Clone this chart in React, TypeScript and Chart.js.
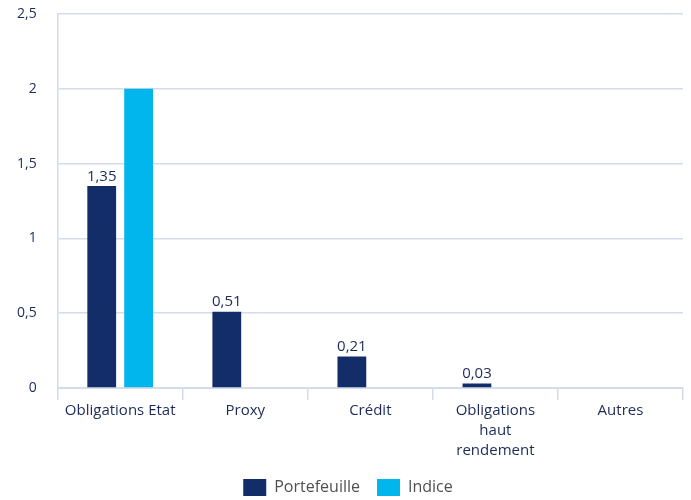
import React, { useEffect, useRef } from "react";
import { Chart, registerables } from "chart.js";

Chart.register(...registerables);

const categories: (string | string[])[] = [
  "Obligations Etat",
  "Proxy",
  "Crédit",
  ["Obligations", "haut", "rendement"],
  "Autres",
];
const portefeuille = [1.35, 0.51, 0.21, 0.03, 0];
const indice = [2.0, 0, 0, 0, 0];
const yTicks = [0, 0.5, 1, 1.5, 2, 2.5];

const NAVY = "#132d69";
const CYAN = "#00b6ec";
const TEXT = "#1c2b5a";
const GRID = "#d3dcea";
const FONT = "'Open Sans', sans-serif";

const fr = (v: number) => String(v).replace(".", ",");

const valueLabels = {
  id: "valueLabels",
  afterDatasetsDraw(chart: any) {
    const ctx = chart.ctx;
    const meta = chart.getDatasetMeta(0);
    ctx.save();
    ctx.font = `15px ${FONT}`;
    ctx.fillStyle = TEXT;
    ctx.textAlign = "center";
    ctx.textBaseline = "bottom";
    meta.data.forEach((el: any, i: number) => {
      const v = portefeuille[i];
      if (!v) return;
      ctx.fillText(fr(v), el.x, el.y - 2);
    });
    ctx.restore();
  },
};

export default function App() {
  const ref = useRef<HTMLCanvasElement>(null);
  useEffect(() => {
    if (!ref.current) return;
    const chart = new Chart(ref.current, {
      type: "bar",
      data: {
        labels: categories,
        datasets: [
          {
            label: "Portefeuille",
            data: portefeuille,
            backgroundColor: NAVY,
            categoryPercentage: 0.59,
            barPercentage: 0.78,
          },
          {
            label: "Indice",
            data: indice,
            backgroundColor: CYAN,
            categoryPercentage: 0.59,
            barPercentage: 0.78,
          },
        ],
      },
      options: {
        animation: false,
        responsive: true,
        maintainAspectRatio: false,
        layout: { padding: { top: 14, right: 8, left: 13, bottom: -6 } },
        plugins: {
          legend: {
            position: "bottom",
            labels: {
              boxWidth: 23,
              boxHeight: 17,
              padding: 17,
              color: "#505050",
              font: { family: FONT, size: 16 },
            },
          },
          tooltip: { enabled: false },
        },
        scales: {
          x: {
            grid: {
              display: true,
              drawOnChartArea: false,
              drawTicks: true,
              tickLength: 12,
              color: GRID,
              lineWidth: 1.5,
            },
            border: { display: true, color: GRID, width: 2 },
            ticks: {
              color: TEXT,
              font: { family: FONT, size: 15, lineHeight: 1.333 },
              padding: 1,
              maxRotation: 0,
            },
          },
          y: {
            min: 0,
            max: 2.5,
            afterBuildTicks: (axis: any) => {
              axis.ticks = yTicks.map((v) => ({ value: v }));
            },
            grid: {
              color: GRID,
              lineWidth: 1.5,
              drawTicks: true,
              tickLength: 17,
              tickColor: "rgba(0,0,0,0)",
            },
            border: { display: true, color: GRID, width: 1.5 },
            ticks: {
              color: TEXT,
              font: { family: FONT, size: 14, lineHeight: 1 },
              padding: 4,
              callback: (v: any) => fr(Number(v)),
            },
          },
        },
      },
      plugins: [valueLabels],
    });
    return () => chart.destroy();
  }, []);
  return (
    <div style={{ position: "absolute", left: 0, top: 0, width: 691, height: 500 }}>
      <canvas ref={ref} />
    </div>
  );
}
